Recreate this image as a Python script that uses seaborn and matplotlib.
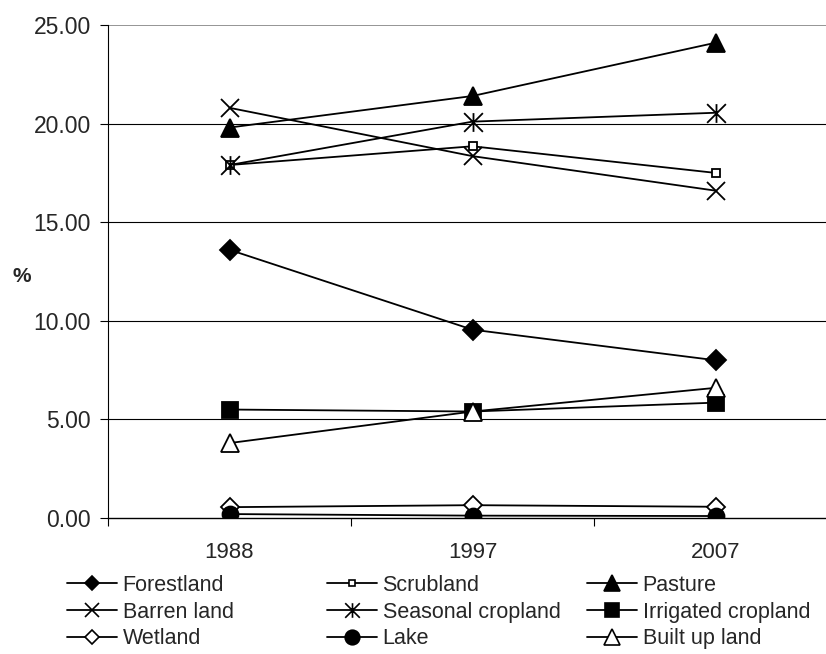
import numpy as np
import pandas as pd
import matplotlib
matplotlib.use("Agg")
import matplotlib.pyplot as plt
from matplotlib.path import Path
from matplotlib.lines import Line2D
import seaborn as sns

years = ["1988", "1997", "2007"]

forestland = [13.6, 9.55, 8.0]
scrubland = [17.9, 18.85, 17.5]
pasture = [19.8, 21.4, 24.1]
barren_land = [20.8, 18.35, 16.6]
seasonal_cropland = [17.9, 20.1, 20.55]
irrigated_cropland = [5.5, 5.4, 5.85]
wetland = [0.55, 0.65, 0.57]
lake = [0.2, 0.12, 0.1]
built_up_land = [3.8, 5.4, 6.6]

y_ticks = [0, 5, 10, 15, 20, 25]

sns.set_theme(style="white")
plt.rcParams["font.family"] = ["Liberation Sans", "DejaVu Sans"]

# star marker: an X with a vertical bar through it
asterisk = Path(
    [(0, -1), (0, 1), (-1, -1), (1, 1), (-1, 1), (1, -1)],
    [Path.MOVETO, Path.LINETO, Path.MOVETO, Path.LINETO, Path.MOVETO, Path.LINETO],
)

# name, values, marker, plot size, legend size, face colour
series = [
    ("Forestland", forestland, "D", 10, 7.5, "black"),
    ("Scrubland", scrubland, "s", 5.5, 5, "white"),
    ("Pasture", pasture, "^", 13, 12, "black"),
    ("Barren land", barren_land, "x", 13.5, 10.5, "black"),
    ("Seasonal cropland", seasonal_cropland, asterisk, 13.5, 10.5, "black"),
    ("Irrigated cropland", irrigated_cropland, "s", 11, 10, "black"),
    ("Wetland", wetland, "D", 9.5, 7.5, "white"),
    ("Lake", lake, "o", 11.5, 10.5, "black"),
    ("Built up land", built_up_land, "^", 13, 12, "white"),
]

rows = []
for name, vals, *_ in series:
    for i, v in enumerate(vals):
        rows.append({"series": name, "pos": i, "value": v})
df = pd.DataFrame(rows)

W, H = 826, 654
fig = plt.figure(figsize=(W / 100, H / 100), dpi=100)
# plot area runs past the right edge of the figure
x_left, x_right, y_top, y_bottom = 108, 837, 25, 518
ax = fig.add_axes([x_left / W, 1 - y_bottom / H, (x_right - x_left) / W,
                   (y_bottom - y_top) / H])

for g in [5, 10, 15, 20]:
    ax.axhline(g, color="black", lw=0.8, zorder=1)
ax.axhline(25, color="#8c8c8c", lw=1.3, zorder=1)

handles = {}
for name, vals, mk, ms, lms, fc in series:
    sub = df[df["series"] == name]
    sns.lineplot(data=sub, x="pos", y="value", ax=ax, color="black", lw=1.3,
                 marker=mk, markersize=ms, markerfacecolor=fc,
                 markeredgecolor="black", markeredgewidth=1.3,
                 legend=False, zorder=3)
    handles[name] = Line2D([], [], color="black", lw=1.3, marker=mk,
                           markersize=lms, markerfacecolor=fc,
                           markeredgecolor="black", markeredgewidth=1.2)

ax.set_xlim(-0.5, 2.5)
ax.set_ylim(0, 25)
ax.set_xticks([0, 1, 2])
ax.set_xticklabels(years)
ax.set_xticks([-0.5, 0.5, 1.5], minor=True)
ax.tick_params(axis="x", which="major", length=0, pad=17, labelsize=16)
ax.tick_params(axis="x", which="minor", length=6, width=0.8, color="black",
               direction="out", bottom=True)
ax.set_yticks(y_ticks)
ax.set_yticklabels([f"{t:.2f}" for t in y_ticks])
ax.tick_params(axis="y", length=6, width=0.8, color="black", direction="out",
               left=True, labelsize=16.5, pad=6.5)

for side in ["top", "right"]:
    ax.spines[side].set_visible(False)
ax.spines["left"].set_color("black")
ax.spines["left"].set_linewidth(0.8)
ax.spines["bottom"].set_color("black")
ax.spines["bottom"].set_linewidth(1.0)

ax.set_xlabel("")
ax.set_ylabel("%", rotation=0, fontsize=15, fontweight="bold", labelpad=0,
              va="center", ha="center")
ax.yaxis.set_label_coords(-(x_left - 22) / (x_right - x_left),
                          (y_bottom - 276) / (y_bottom - y_top))

# three legend columns, each placed at its own left edge
columns = [
    (["Forestland", "Barren land", "Wetland"], 67),
    (["Scrubland", "Seasonal cropland", "Lake"], 327),
    (["Pasture", "Irrigated cropland", "Built up land"], 587),
]
for names, x0 in columns:
    fig.legend([handles[n] for n in names], names, loc="upper left",
               bbox_to_anchor=(x0 / W, 1 - 575 / H), ncol=1,
               frameon=False, fontsize=15.5, handlelength=2.3,
               handletextpad=0.28, labelspacing=0.26, borderaxespad=0,
               borderpad=0)

fig.savefig("out.png", dpi=100)
